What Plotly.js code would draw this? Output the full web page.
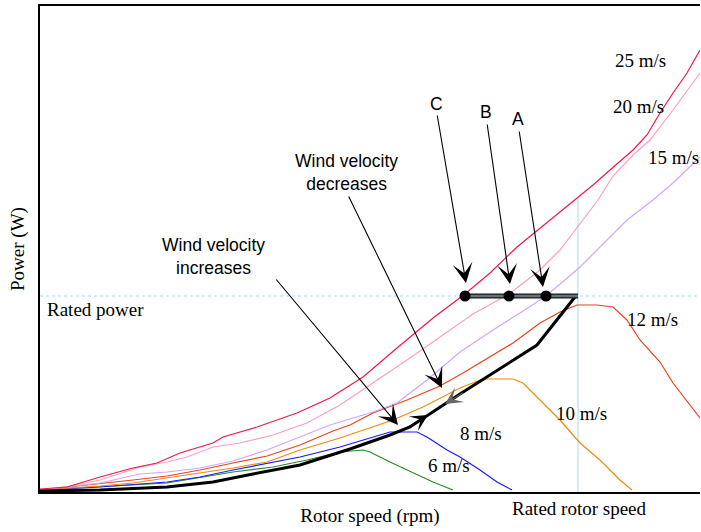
<!DOCTYPE html>
<html>
<head>
<meta charset="utf-8">
<script src="https://cdn.plot.ly/plotly-3.0.1.min.js"></script>
<style>html,body{margin:0;padding:0;background:#fff;}#chart{width:701px;height:532px;}</style>
</head>
<body>
<div id="chart"></div>
<script>
// Rotor speed (arbitrary units) and power (arbitrary units)
const x25 = [0,27,60,93,117,140,173,183,217,247,257,290,323,357,370,393,425,450,477,510,538,553,570,582,593,607,620,633,647,660];
const p25 = [3,5,15,24,29,39,49,55,65,75,79,94,115,144,155,174,198,219,245,272,294,307,322,332,342,357,379,399,419,442];
const x20 = [0,30,60,100,127,147,173,200,233,267,300,333,367,400,433,469,500,520,538,558,573,593,610,633,660];
const p20 = [2,6,12,25,30,35,45,49,57,69,87,109,132,155,178,198,222,242,266,292,316,337,352,382,419];
const x15 = [0,60,100,127,160,193,227,260,290,310,333,357,387,420,453,480,506,540,567,587,613,633,660];
const p15 = [2,9,18,20,24,31,42,55,67,73,80,89,112,140,162,179,196,225,252,272,292,309,335];
const x12 = [0,60,93,127,160,193,227,260,293,310,333,367,400,423,450,473,500,520,537,557,573,587,600,620,633,660];
const p12 = [2,8,12,16,22,29,36,47,61,67,79,92,106,119,135,149,169,180,187,187,185,172,152,130,109,74];
const x10 = [0,60,93,127,160,193,227,260,300,333,353,383,420,443,473,483,500,520,540,560,580,592];
const p10 = [2,6,9,14,19,24,30,42,54,65,72,85,104,113,113,109,92,72,49,32,12,2];
const x8 = [0,60,127,160,193,233,260,300,333,350,377,387,407,420,440,457,472];
const p8 = [2,5,10,15,22,30,35,45,55,60,60,55,42,35,22,10,2];
const x6 = [0,60,127,193,233,267,300,323,330,350,367,393,413];
const p6 = [2,5,9,20,25,32,40,42,40,30,22,10,2];
const xOpt = [0,60,127,173,213,260,310,350,370,420,497,535];
const pOpt = [1,2,5,10,18,27,43,57,65,98,147,195];
const ratedPower = 196;
const ratedSpeed = 538;
const opX = [425,469,506];           // operating points C, B, A
const opLabels = ['C','B','A'];
const windLabels = ['25 m/s','20 m/s','15 m/s','12 m/s','10 m/s','8 m/s','6 m/s'];
const windLabelX = [600,598,633,612,541,441,409];
const windLabelY = [432,386,335,173,79,59,27];

const serif = 'Liberation Serif, Times New Roman, serif';
const sans = 'Liberation Sans, Arial, sans-serif';

function curve(x, y, color, w) {
  return {x: x, y: y, type: 'scatter', mode: 'lines', line: {color: color, width: w || 1.2}, hoverinfo: 'skip', showlegend: false};
}

const traces = [
  curve(x6, p6, '#2a8a2a'),
  curve(x8, p8, '#1a1aff'),
  curve(x10, p10, '#ee8a12'),
  curve(x12, p12, '#e8441c'),
  curve(x15, p15, '#cfa6ff'),
  curve(x20, p20, '#ff9ec0'),
  curve(x25, p25, '#f2184a'),
  curve(xOpt, pOpt, '#000000', 3),
  curve([opX[0], ratedSpeed], [ratedPower, ratedPower], '#1a1a1a', 5),
  curve([opX[0], ratedSpeed], [ratedPower, ratedPower], '#66737a', 2.5),
  {x: opX, y: opX.map(() => ratedPower), type: 'scatter', mode: 'markers',
   marker: {color: '#000', size: 11}, hoverinfo: 'skip', showlegend: false}
];

const annotations = [];
windLabels.forEach((t, i) => annotations.push({
  x: windLabelX[i], y: windLabelY[i], text: t, showarrow: false,
  font: {family: serif, size: 19, color: '#000'}
}));
annotations.push({x: 5, y: 183, text: 'Rated power', xanchor: 'left', showarrow: false,
  font: {family: serif, size: 19, color: '#000'}});
annotations.push({x: 539, xref: 'x', y: -0.033, yref: 'paper', yanchor: 'middle', text: 'Rated rotor speed', showarrow: false,
  font: {family: serif, size: 19, color: '#000'}});
annotations.push({x: 306, y: 320, text: 'Wind velocity<br>decreases', showarrow: false,
  font: {family: sans, size: 17.5, color: '#000'}});
annotations.push({x: 173, y: 236, text: 'Wind velocity<br>increases', showarrow: false,
  font: {family: sans, size: 17.5, color: '#000'}});
const labelPos = [[396,388],[446,380],[478,373]];
opLabels.forEach((t, i) => annotations.push({x: labelPos[i][0], y: labelPos[i][1], text: t, showarrow: false,
  font: {family: sans, size: 17.5, color: '#000'}}));

function arrow(tx, ty, hx, hy, color, size) {
  return {x: hx, y: hy, ax: tx, ay: ty, xref: 'x', yref: 'y', axref: 'x', ayref: 'y',
    text: '', showarrow: true, arrowhead: 3, arrowsize: size || 3, arrowwidth: 1.1,
    arrowcolor: color || '#000', standoff: 0, startstandoff: 0};
}
annotations.push(arrow(397,378,426,209));
annotations.push(arrow(447,369,470,208));
annotations.push(arrow(479,362,503,205));
annotations.push(arrow(308,297,402,104));
annotations.push(arrow(235,214,358,67));
annotations.push(arrow(365,63,388,77,'#000',2.6));
annotations.push(arrow(424,100,405,88,'#666',2.6));

const layout = {
  width: 701, height: 532,
  margin: {l: 40, r: 1, t: 6, b: 40},
  paper_bgcolor: '#fff', plot_bgcolor: '#fff',
  showlegend: false,
  xaxis: {range: [0, 660], showgrid: false, zeroline: false, showticklabels: false, ticks: '',
    showline: true, mirror: true, linecolor: '#000', linewidth: 2, fixedrange: true,
    title: {text: 'Rotor speed (rpm)', font: {family: serif, size: 19, color: '#000'}, standoff: 16}},
  yaxis: {range: [0, 486], showgrid: false, zeroline: false, showticklabels: false, ticks: '',
    showline: true, linecolor: '#000', linewidth: 2, fixedrange: true,
    title: {text: 'Power (W)', font: {family: serif, size: 19, color: '#000'}, standoff: 8}},
  shapes: [
    {type: 'line', xref: 'x', yref: 'y', x0: 0, x1: 657, y0: ratedPower, y1: ratedPower,
     line: {color: '#bfe8f6', width: 1.5, dash: 'dot'}, layer: 'below'},
    {type: 'line', xref: 'x', yref: 'y', x0: ratedSpeed, x1: ratedSpeed, y0: 0, y1: 294,
     line: {color: '#bfe8f6', width: 1.5}, layer: 'below'}
  ],
  annotations: annotations
};

Plotly.newPlot('chart', traces, layout, {staticPlot: true, displayModeBar: false});
</script>
</body>
</html>
